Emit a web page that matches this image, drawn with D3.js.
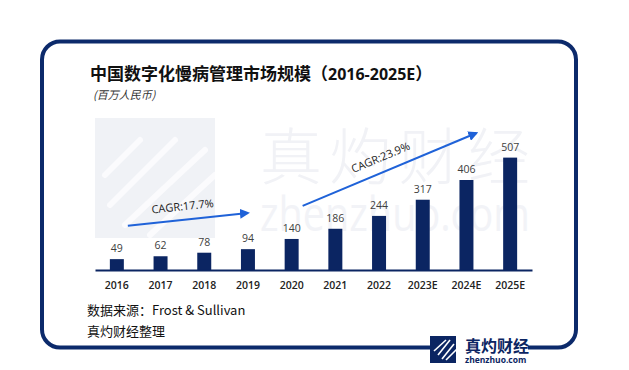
<!DOCTYPE html>
<html>
<head>
<meta charset="utf-8">
<script src="https://cdn.jsdelivr.net/npm/d3@7"></script>
<style>
  html, body { margin: 0; padding: 0; background: #fff; }
  svg { display: block; }
</style>
</head>
<body>
<svg id="chart" width="629" height="370"></svg>
<script>
// Chart data
const years = ["2016", "2017", "2018", "2019", "2020", "2021", "2022", "2023E", "2024E", "2025E"];
const values = [49, 62, 78, 94, 140, 186, 244, 317, 406, 507];

// CAGR annotations: from / to category, with the arrow height in value units
const cagrLabels = ["CAGR:17.7%", "CAGR:23.9%"];
const cagrFrom = [["2016", 200], ["2020", 289]];
const cagrTo = [["2019", 257], ["2024E", 618]];

const navy = "#0b2562",
  frameColor = "#0c2a6b",
  arrowBlue = "#1f62d8",
  cjk = "'Noto Sans CJK SC', 'Noto Sans', sans-serif",
  latin = "'Open Sans', 'Noto Sans', 'Noto Sans CJK SC', sans-serif";

const svg = d3.select("#chart");

// Scales: baseline at y = 270, axis from 95 to 532
const x = d3.scaleBand().domain(years).range([95, 532]).paddingInner(0.68).paddingOuter(0.34);
const y = d3.scaleLinear().domain([0, 600]).range([270, 137]);

// Watermark - pale square with diagonal streaks
const wm = svg.append("g");
wm.append("defs").append("clipPath").attr("id", "wmclip")
  .append("rect").attr("x", 95).attr("y", 118).attr("width", 120).attr("height", 120);
wm.append("rect")
  .attr("x", 95).attr("y", 118).attr("width", 120).attr("height", 120)
  .attr("fill", "#f0f2f6");
const streaks = wm.append("g").attr("clip-path", "url(#wmclip)");
[[105, 175, 140, 140], [110, 205, 175, 140], [125, 225, 205, 150], [150, 235, 215, 175]].forEach(s => {
  streaks.append("path")
    .attr("d", "M" + s[0] + "," + s[1] + " Q" + ((s[0] + s[2]) / 2 + 4) + "," + ((s[1] + s[3]) / 2 - 4) + " " + s[2] + "," + s[3])
    .attr("stroke", "#fbfbfd")
    .attr("stroke-width", 6)
    .attr("stroke-linecap", "round")
    .attr("fill", "none");
});
wm.append("text")
  .attr("x", 260).attr("y", 180)
  .attr("font-family", cjk).attr("font-size", 62).attr("font-weight", 300)
  .attr("textLength", 270).attr("lengthAdjust", "spacing")
  .attr("fill", "#f1f2f6")
  .text("真灼财经");
wm.append("text")
  .attr("x", 260).attr("y", 231)
  .attr("font-family", latin).attr("font-size", 48)
  .attr("textLength", 270).attr("lengthAdjust", "spacingAndGlyphs")
  .attr("fill", "#f2f3f7")
  .text("zhenzhuo.com");

// Frame
svg.append("rect")
  .attr("x", 42).attr("y", 41.5).attr("width", 534).attr("height", 306)
  .attr("rx", 18).attr("ry", 18)
  .attr("fill", "none")
  .attr("stroke", frameColor)
  .attr("stroke-width", 4);

// Title
const title = svg.append("text")
  .attr("x", 90).attr("y", 80)
  .attr("font-family", cjk).attr("font-size", 17).attr("font-weight", 700)
  .attr("fill", "#111");
title.append("tspan").text("中国数字化慢病管理市场规模（");
title.append("tspan").attr("font-family", latin).attr("font-size", 16).text("2016-2025E");
title.append("tspan").text("）");

svg.append("text")
  .attr("x", 93).attr("y", 99)
  .attr("font-family", cjk).attr("font-size", 11).attr("font-style", "italic")
  .attr("fill", "#333")
  .text("(百万人民币)");

// Bars
svg.append("g").selectAll("rect")
  .data(values)
  .join("rect")
  .attr("x", (d, i) => x(years[i]))
  .attr("y", d => y(d))
  .attr("width", x.bandwidth())
  .attr("height", d => y(0) - y(d))
  .attr("fill", navy);

// Value labels
svg.append("g").selectAll("text")
  .data(values)
  .join("text")
  .attr("x", (d, i) => x(years[i]) + x.bandwidth() / 2)
  .attr("y", d => y(d) - 7)
  .attr("text-anchor", "middle")
  .attr("font-family", latin).attr("font-size", 10.5)
  .attr("fill", "#404040")
  .text(d => d);

// X axis
const xAxis = svg.append("g")
  .attr("transform", "translate(0," + y(0) + ")")
  .call(d3.axisBottom(x).tickSize(0).tickPadding(12));
xAxis.select(".domain").attr("stroke", navy).attr("stroke-width", 2);
xAxis.selectAll("text")
  .attr("font-family", latin).attr("font-size", 10.5).attr("font-weight", 600)
  .attr("fill", "#222");

// CAGR arrows
svg.append("defs").append("marker")
  .attr("id", "arrowhead")
  .attr("viewBox", "0 0 10 10")
  .attr("refX", 8).attr("refY", 5)
  .attr("markerWidth", 5).attr("markerHeight", 5)
  .attr("orient", "auto")
  .append("path")
  .attr("d", "M0,0 L10,5 L0,10 Z")
  .attr("fill", arrowBlue);

const endShift = [0, 10];
cagrLabels.forEach((label, i) => {
  let x1 = x(cagrFrom[i][0]) + x.bandwidth() + 4,
    y1 = y(cagrFrom[i][1]),
    x2 = x(cagrTo[i][0]) + x.bandwidth() / 2 + endShift[i],
    y2 = y(cagrTo[i][1]);

  svg.append("line")
    .attr("x1", x1).attr("y1", y1)
    .attr("x2", x2).attr("y2", y2)
    .attr("stroke", arrowBlue)
    .attr("stroke-width", 2)
    .attr("marker-end", "url(#arrowhead)");

  let angle = Math.atan2(y2 - y1, x2 - x1),
    mx = (x1 + x2) / 2 + 13 * Math.sin(angle) - 4,
    my = (y1 + y2) / 2 - 13 * Math.cos(angle);

  svg.append("text")
    .attr("transform", "translate(" + mx + "," + my + ") rotate(" + (angle * 180 / Math.PI) + ")")
    .attr("text-anchor", "middle")
    .attr("dy", "0.35em")
    .attr("font-family", latin).attr("font-size", 11)
    .attr("fill", "#222")
    .text(label);
});

// Source
svg.append("text")
  .attr("x", 87).attr("y", 315)
  .attr("font-family", cjk).attr("font-size", 13)
  .attr("fill", "#111")
  .text("数据来源：Frost & Sullivan");
svg.append("text")
  .attr("x", 87).attr("y", 336)
  .attr("font-family", cjk).attr("font-size", 13)
  .attr("fill", "#111")
  .text("真灼财经整理");

// Logo sitting on the bottom frame line
const logo = svg.append("g");
logo.append("rect")
  .attr("x", 456).attr("y", 336).attr("width", 72).attr("height", 30)
  .attr("fill", "#fff");
logo.append("rect")
  .attr("x", 430).attr("y", 336).attr("width", 26).attr("height", 27)
  .attr("fill", navy);
[0, 1, 2, 3].forEach(k => {
  logo.append("line")
    .attr("x1", 434 + k * 4).attr("y1", 351 + k * 4 > 360 ? 360 : 351 + k * 4)
    .attr("x2", 440 + k * 4 + 6).attr("y2", 340 + k * 4 - 4 < 340 ? 340 : 340 + k * 4 - 4)
    .attr("stroke", "#fff")
    .attr("stroke-width", 1.6);
});
logo.append("text")
  .attr("x", 465).attr("y", 352)
  .attr("font-family", cjk).attr("font-size", 16).attr("font-weight", 700)
  .attr("fill", navy)
  .text("真灼财经");
logo.append("text")
  .attr("x", 465).attr("y", 363)
  .attr("font-family", latin).attr("font-size", 8.5).attr("font-weight", 700)
  .attr("fill", navy)
  .text("zhenzhuo.com");
</script>
</body>
</html>
